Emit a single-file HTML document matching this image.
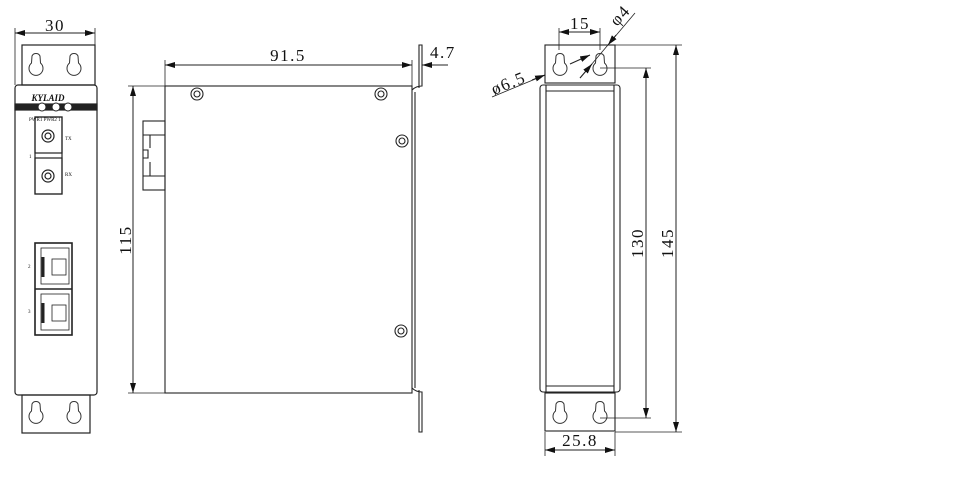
<!DOCTYPE html>
<html><head><meta charset="utf-8"><style>
html,body{margin:0;padding:0;background:#fff;width:966px;height:486px;overflow:hidden}
svg{display:block}
text{font-family:"Liberation Serif",serif;fill:#111}
.d{font-size:17px;letter-spacing:1.5px}
</style></head><body>
<svg width="966" height="486" viewBox="0 0 966 486" xmlns="http://www.w3.org/2000/svg">
<defs>
<marker id="a" viewBox="0 0 10 6" refX="10" refY="3" markerWidth="10" markerHeight="6" orient="auto-start-reverse" markerUnits="userSpaceOnUse"><path d="M0,0L10,3L0,6z" fill="#111"/></marker>
<path id="kh" d="M-4,-8 A4.5,4.5 0 0 1 4,-8 L4.5,-1 A7,7 0 1 1 -4.5,-1 Z" fill="none" stroke="#333" stroke-width="1"/>
</defs>
<g stroke="#222" stroke-width="1.2" fill="none">
<!-- LEFT VIEW -->
<line x1="15" y1="33" x2="95" y2="33" marker-start="url(#a)" marker-end="url(#a)" stroke-width="1"/>
<line x1="15" y1="28" x2="15" y2="85" stroke-width="0.8"/>
<line x1="95" y1="28" x2="95" y2="85" stroke-width="0.8"/>
<rect x="22" y="45" width="73" height="40"/>
<rect x="15" y="85" width="82" height="310" rx="3"/>
<rect x="22" y="395" width="68" height="38"/>
<rect x="15" y="104" width="82" height="6" fill="#222"/>
<rect x="35" y="117" width="27" height="77"/>
<rect x="35" y="117" width="27" height="36"/>
<rect x="35" y="158" width="27" height="36"/>
<circle cx="48" cy="136" r="6"/><circle cx="48" cy="136" r="3"/>
<circle cx="48" cy="176" r="6"/><circle cx="48" cy="176" r="3"/>
<rect x="35" y="243" width="37" height="92" stroke-width="1.6"/>
<line x1="35" y1="289" x2="72" y2="289" stroke-width="1.6"/>
<rect x="41" y="248" width="28" height="36" stroke-width="0.8"/>
<rect x="41" y="294" width="28" height="36" stroke-width="0.8"/>
<rect x="52" y="259" width="14" height="16" stroke-width="0.8"/>
<rect x="52" y="305" width="14" height="16" stroke-width="0.8"/>
<line x1="43" y1="257" x2="43" y2="277" stroke-width="3"/>
<line x1="43" y1="303" x2="43" y2="323" stroke-width="3"/>
</g>
<circle cx="42" cy="107" r="4" fill="#fff" stroke="#222"/>
<circle cx="56" cy="107" r="4" fill="#fff" stroke="#222"/>
<circle cx="68" cy="107" r="4" fill="#fff" stroke="#222"/>
<use href="#kh" x="36" y="64"/><use href="#kh" x="74" y="64"/>
<use href="#kh" x="36" y="412"/><use href="#kh" x="74" y="412"/>
<text x="55" y="31" class="d" text-anchor="middle">30</text>
<text x="48" y="101" font-size="9" font-style="italic" font-weight="bold" text-anchor="middle" font-family="Liberation Sans">KYLAID</text>
<text x="29" y="121" font-size="5" font-family="Liberation Sans">PWR1 PWR2  1</text>
<text x="65" y="140" font-size="5" font-family="Liberation Sans">TX</text>
<text x="65" y="176" font-size="5" font-family="Liberation Sans">RX</text>
<text x="29" y="158" font-size="5" font-family="Liberation Sans">1</text>
<text x="28" y="268" font-size="5" font-family="Liberation Sans">2</text>
<text x="28" y="313" font-size="5" font-family="Liberation Sans">3</text>

<!-- MIDDLE VIEW -->
<g stroke="#222" stroke-width="1.1" fill="none">
<rect x="165" y="86" width="247" height="307"/>
<line x1="415" y1="92" x2="415" y2="388"/>
<path d="M412,90 q4,-4 10,-4 V45 h-3 V88"/>
<path d="M412,388 q4,4 10,4 V432 h-3 V390"/>
<rect x="143" y="121" width="22" height="69"/>
<line x1="143" y1="135" x2="165" y2="135"/>
<line x1="143" y1="176" x2="165" y2="176"/>
<path d="M143,150 h5 v8 h-5"/>
<line x1="150" y1="135" x2="150" y2="148"/>
<line x1="150" y1="162" x2="150" y2="176"/>
<line x1="165" y1="60" x2="165" y2="86" stroke-width="0.8"/>
<line x1="412" y1="60" x2="412" y2="86" stroke-width="0.8"/>
<line x1="165" y1="65" x2="412" y2="65" stroke-width="1" marker-start="url(#a)" marker-end="url(#a)"/>
<line x1="434" y1="65" x2="448" y2="65" stroke-width="1"/>
<line x1="444" y1="65" x2="422" y2="65" stroke-width="1" marker-end="url(#a)"/>
<line x1="128" y1="86" x2="165" y2="86" stroke-width="0.8"/>
<line x1="128" y1="393" x2="165" y2="393" stroke-width="0.8"/>
<line x1="133" y1="86" x2="133" y2="393" stroke-width="1" marker-start="url(#a)" marker-end="url(#a)"/>
<circle cx="197" cy="94" r="6"/><circle cx="197" cy="94" r="3"/>
<circle cx="381" cy="94" r="6"/><circle cx="381" cy="94" r="3"/>
<circle cx="402" cy="141" r="6"/><circle cx="402" cy="141" r="3"/>
<circle cx="401" cy="331" r="6"/><circle cx="401" cy="331" r="3"/>
</g>
<text x="288" y="61" class="d" text-anchor="middle">91.5</text>
<text x="430" y="58" class="d">4.7</text>
<text x="0" y="0" class="d" text-anchor="middle" transform="translate(131,240) rotate(-90)">115</text>

<!-- RIGHT VIEW -->
<g stroke="#222" stroke-width="1.1" fill="none">
<rect x="545" y="45" width="70" height="38"/>
<rect x="540" y="85" width="80" height="307" rx="3"/>
<line x1="546" y1="85" x2="546" y2="392"/>
<line x1="614" y1="85" x2="614" y2="392"/>
<line x1="546" y1="91" x2="614" y2="91"/>
<line x1="546" y1="386" x2="614" y2="386"/>
<rect x="545" y="393" width="70" height="38"/>
<line x1="559" y1="28" x2="559" y2="50" stroke-width="0.8"/>
<line x1="600" y1="28" x2="600" y2="50" stroke-width="0.8"/>
<line x1="559" y1="32" x2="600" y2="32" stroke-width="1" marker-start="url(#a)" marker-end="url(#a)"/>
<line x1="615" y1="45" x2="682" y2="45" stroke-width="0.8"/>
<line x1="615" y1="432" x2="682" y2="432" stroke-width="0.8"/>
<line x1="676" y1="45" x2="676" y2="432" stroke-width="1" marker-start="url(#a)" marker-end="url(#a)"/>
<line x1="600" y1="68" x2="651" y2="68" stroke-width="0.8"/>
<line x1="600" y1="418" x2="651" y2="418" stroke-width="0.8"/>
<line x1="646" y1="68" x2="646" y2="418" stroke-width="1" marker-start="url(#a)" marker-end="url(#a)"/>
<line x1="545" y1="432" x2="545" y2="456" stroke-width="0.8"/>
<line x1="615" y1="432" x2="615" y2="456" stroke-width="0.8"/>
<line x1="545" y1="450" x2="615" y2="450" stroke-width="1" marker-start="url(#a)" marker-end="url(#a)"/>
<line x1="492" y1="97" x2="545" y2="75" stroke-width="0.8"/>
<line x1="570" y1="64" x2="590" y2="55" stroke-width="1" marker-end="url(#a)"/>
<line x1="532" y1="80" x2="545" y2="75" stroke-width="1" marker-end="url(#a)"/>
<line x1="580" y1="78" x2="635" y2="13" stroke-width="0.8"/>
<line x1="616" y1="35" x2="608" y2="45" stroke-width="1" marker-end="url(#a)"/>
<line x1="580" y1="78" x2="592" y2="64" stroke-width="1" marker-end="url(#a)"/>
</g>
<use href="#kh" x="560" y="64"/><use href="#kh" x="600" y="64"/>
<use href="#kh" x="560" y="412"/><use href="#kh" x="600" y="412"/>
<text x="580" y="29" class="d" text-anchor="middle">15</text>
<text x="0" y="0" class="d" transform="translate(617,27) rotate(-48)">φ4</text>
<text x="0" y="0" class="d" transform="translate(494,95) rotate(-22)">ø6.5</text>
<text x="0" y="0" class="d" text-anchor="middle" transform="translate(643,243) rotate(-90)">130</text>
<text x="0" y="0" class="d" text-anchor="middle" transform="translate(673,243) rotate(-90)">145</text>
<text x="580" y="446" class="d" text-anchor="middle">25.8</text>
</svg>
</body></html>
